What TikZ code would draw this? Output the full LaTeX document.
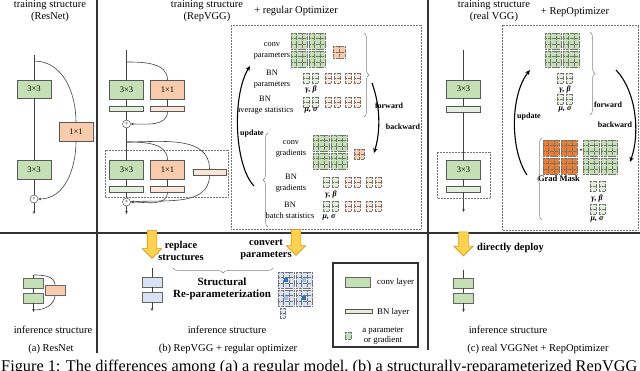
\documentclass[tikz,border=0pt]{standalone}
\usepackage{fontspec}
\setmainfont{Liberation Serif}
\usetikzlibrary{arrows.meta, positioning, decorations.pathreplacing, shapes.arrows}
\definecolor{convgreen}{HTML}{C5E0B4}
\definecolor{bngreen}{HTML}{E2F0D9}
\definecolor{onepink}{HTML}{F8CBAD}
\definecolor{bnbeige}{HTML}{FBE5D6}
\definecolor{maskorange}{HTML}{ED7D31}
\definecolor{infblue}{HTML}{DAE3F3}
\definecolor{darkblue}{HTML}{2E75B6}
\definecolor{midblue}{HTML}{9DC3E6}
\definecolor{deployyellow}{HTML}{FFD14F}
\definecolor{deployedge}{HTML}{C79A1E}
\tikzset{
    conv/.style={rectangle, draw=black!65, fill=convgreen, minimum width=34pt, minimum height=18.5pt, inner sep=0pt, font=\fontsize{8.5}{9}\selectfont},
    onebyone/.style={conv, fill=onepink},
    bnbar/.style={rectangle, draw=black!65, fill=bngreen, minimum width=34pt, minimum height=5.5pt, inner sep=0pt},
    bnbeigebar/.style={bnbar, fill=bnbeige},
    infbox/.style={rectangle, draw=black!60, fill=convgreen, minimum width=20pt, minimum height=10pt, inner sep=0pt},
    addop/.style={circle, draw=black!80, fill=white, minimum size=8pt, inner sep=0pt, font=\fontsize{6}{6}\selectfont},
    wire/.style={draw=black!75, line width=0.6pt},
    flow/.style={wire, -{Stealth[length=3pt, width=2.6pt]}},
    bigflow/.style={draw=black, line width=1.1pt, -{Stealth[length=5pt, width=4.5pt]}},
    txt/.style={inner sep=0pt, align=center, font=\fontsize{10.5}{11.5}\selectfont},
    smalltxt/.style={inner sep=0pt, align=center, font=\fontsize{8.3}{11.5}\selectfont},
    boldtxt/.style={inner sep=0pt, align=center, font=\fontsize{10.5}{12}\selectfont\bfseries},
    steptxt/.style={inner sep=0pt, font=\fontsize{8}{9}\selectfont\bfseries},
    greek/.style={inner sep=0pt, font=\fontsize{8}{9}\selectfont\bfseries\itshape},
    legtxt/.style={inner sep=0pt, align=center, font=\fontsize{8.8}{10}\selectfont},
    dotbox/.style={draw=black!55, densely dotted, line width=0.5pt},
    cellline/.style={draw=black!55, densely dotted, line width=0.3pt},
    bracket/.style={draw=black!50, line width=0.5pt, decorate, decoration={brace, amplitude=5pt}},
    divider/.style={draw=black!80, line width=1.3pt},
    legframe/.style={draw=black!80, line width=1.1pt},
    deploy/.style={single arrow, draw=deployedge, fill=deployyellow, line width=0.6pt, minimum height=28pt, single arrow head extend=5pt, inner sep=4.5pt, shape border rotate=270}
}
% a matrix of kernel cells: x, y, cols, rows, cell width, cell height, colour
\newcommand{\kmat}[7]{%
    \fill[#7] (#1,#2) rectangle ++(#3*#5,#4*#6);
    \foreach \k in {0,...,#3}
        \draw[cellline] (#1+\k*#5,#2) -- ++(0,#4*#6);
    \foreach \k in {0,...,#4}
        \draw[cellline] (#1,#2+\k*#6) -- ++(#3*#5,0);
}
% 2x2 block of 3x3 kernels
\newcommand{\kblock}[3]{%
    \foreach \kr in {0,1}
        \foreach \kc in {0,1}
            {\kmat{#1+\kc*18}{#2+\kr*18}{3}{3}{5.33}{5.33}{#3}}
}
% a pair of BN vectors
\newcommand{\kpair}[3]{%
    \kmat{#1}{#2}{1}{2}{6}{5}{#3}
    \kmat{#1+9}{#2}{1}{2}{6}{5}{#3}
}
% centre cell of a 3x3 kernel
\newcommand{\kcentre}[3]{\fill[#3] (#1+5.8,#2+5.8) rectangle ++(4.4,4.4);}

\begin{document}
\begin{tikzpicture}[x=1pt, y=-1pt]
    \useasboundingbox (0,0) rectangle (640,371);
    % titles
    \node[txt, anchor=north] (a-title) at (50,0.5) {training structure\\(ResNet)};
    \node[txt, anchor=north] (b-title) at (207,0.5) {training structure\\(RepVGG)};
    \node[txt] (b-opt) at (296,10.5) {+ regular Optimizer};
    \node[txt, anchor=north] (c-title) at (494,0.5) {training structure\\(real VGG)};
    \node[txt] (c-opt) at (575,12) {+ RepOptimizer};

    % dividers
    \draw[divider] (0,233) -- (640,233);
    \draw[divider] (97,0) -- (97,353);
    \draw[divider] (428,0) -- (428,350);

    % (a) ResNet, training
    \coordinate (a-top) at (34,55);
    \coordinate (a-split) at (34,61);
    \node[conv] (a-c1) at (34,89) {3×3};
    \node[onebyone] (a-one) at (76,131.5) {1×1};
    \node[conv] (a-c2) at (34,169.5) {3×3};
    \node[addop] (a-add) at (34,199) {+};
    \coordinate (a-out) at (34,214);
    \draw[wire] (a-top) -- (a-c1) -- (a-c2) -- (a-add);
    \draw[wire] (a-split) to[out=0, in=90] (a-one.north);
    \draw[flow] (a-one.south) to[out=-90, in=0] (a-add.east);
    \draw[flow] (a-add) -- (a-out);

    % (a) inference
    \coordinate (a-itop) at (33.5,275);
    \node[infbox] (a-i1) at (33.5,283) {};
    \node[infbox] (a-i2) at (33.5,298) {};
    \coordinate (a-iout) at (33.5,312);
    \coordinate (a-iend) at (34.5,310);
    \draw[wire] (a-itop) to[out=0, in=90] (55,285);
    \draw[wire] (55,295) to[out=-90, in=0] (a-iend);
    \node[infbox, fill=onepink] (a-ione) at (55,290) {};
    \draw[wire] (a-itop) -- (a-i1) -- (a-i2);
    \draw[flow] (a-i2) -- (a-iout);
    \node[txt] (a-inf) at (53,330) {inference structure};
    \node[txt] (a-cap) at (51,349) {(a) ResNet};

    % (b) RepVGG, training
    \coordinate (b-top) at (126.5,50);
    \coordinate (b-split1) at (126.5,62);
    \node[conv] (b-c1) at (126.5,89.5) {3×3};
    \node[onebyone] (b-one1) at (167.5,89.5) {1×1};
    \node[bnbar] (b-bn1) at (126.5,108.5) {};
    \node[bnbeigebar] (b-bn2) at (167.5,108.5) {};
    \node[addop] (b-add1) at (126.5,124) {+};
    \coordinate (b-split2) at (126.5,142);
    \node[conv] (b-c2) at (126.5,169.5) {3×3};
    \node[onebyone] (b-one2) at (167.5,169.5) {1×1};
    \node[bnbeigebar, minimum width=33pt] (b-id) at (209.5,172) {};
    \node[bnbar] (b-bn3) at (126.5,189) {};
    \node[bnbeigebar] (b-bn4) at (167.5,189) {};
    \node[addop] (b-add2) at (126.5,202) {+};
    \coordinate (b-out) at (126.5,214);
    \draw[wire] (b-top) -- (b-c1) -- (b-bn1) -- (b-add1) -- (b-c2) -- (b-bn3) -- (b-add2);
    \draw[flow] (b-add2) -- (b-out);
    \draw[wire] (b-split1) to[out=0, in=90] (b-one1.north);
    \draw[wire] (b-one1) -- (b-bn2);
    \draw[flow] (b-bn2.south) to[out=-90, in=0] (b-add1.east);
    \draw[wire] (b-split2) to[out=0, in=90] (b-one2.north);
    \draw[wire] (b-split2) to[out=0, in=90] (b-id.north);
    \draw[wire] (b-one2) -- (b-bn4);
    \draw[flow] (b-bn4.south) to[out=-90, in=0] (b-add2.east);
    \draw[flow] (b-id.south) to[out=-90, in=5] (b-add2.east);
    \draw[dotbox] (105,150) rectangle (228,197);

    % (b) regular optimizer
    \draw[dotbox] (231,25) rectangle (421,229);
    \kblock{291}{33}{convgreen}
    \kmat{333}{46}{2}{2}{6}{6}{onepink}
    \node[smalltxt] (b-convp) at (272,51) {conv\\parameters};
    \kpair{303}{73}{bngreen}
    \kpair{325}{73}{bnbeige}
    \kpair{345}{73}{bnbeige}
    \node[smalltxt] (b-bnp) at (272,79) {BN\\parameters};
    \node[greek] (b-gb) at (311,90) {γ, β};
    \kpair{303}{97}{bngreen}
    \kpair{325}{97}{bnbeige}
    \kpair{345}{97}{bnbeige}
    \node[smalltxt] (b-bna) at (265,105) {BN\\average statistics};
    \node[greek] (b-ms) at (311,110) {μ, σ};
    \draw[bracket] (364,33) -- (364,117);

    \kblock{313}{135}{convgreen}
    \kmat{354}{149}{2}{2}{5}{5}{onepink}
    \node[smalltxt] (b-convg) at (291,149) {conv\\gradients};
    \kpair{323}{177}{bngreen}
    \kpair{345}{177}{bnbeige}
    \kpair{366}{177}{bnbeige}
    \node[smalltxt] (b-bng) at (291,183) {BN\\gradients};
    \node[greek] (b-gbg) at (331,195) {γ, β};
    \kpair{323}{201}{bngreen}
    \kpair{345}{201}{bnbeige}
    \kpair{366}{201}{bnbeige}
    \node[smalltxt] (b-bnb) at (290,210.5) {BN\\batch statistics};
    \node[greek] (b-msb) at (329,217) {μ, σ};
    \draw[bracket] (268,227) -- (268,133);

    \coordinate (b-upd-s) at (254,186);
    \coordinate (b-upd-e) at (250,66);
    \draw[bigflow] (b-upd-s) .. controls (234,165) and (232,95) .. (b-upd-e);
    \node[steptxt, anchor=west] (b-upd) at (240,134) {update};
    \coordinate (b-fb-s) at (372,83);
    \coordinate (b-fb-e) at (374,153);
    \draw[bigflow] (b-fb-s) .. controls (380,105) and (381,130) .. (b-fb-e);
    \node[steptxt] (b-fwd) at (389,106) {forward};
    \node[steptxt] (b-bwd) at (403,127) {backward};

    % (b) bottom
    \node[deploy] (b-arr1) at (152,242) {};
    \node[deploy, minimum height=26pt] (b-arr2) at (296,240) {};
    \node[boldtxt] (b-replace) at (181,251) {replace\\structures};
    \node[boldtxt] (b-convert) at (266,250) {convert\\parameters};
    \draw[bracket] (273,268) -- (173,268);
    \node[boldtxt, font=\fontsize{11}{12.5}\selectfont\bfseries] (b-strep) at (222,289) {Structural\\Re-parameterization};
    \coordinate (b-itop) at (152,268);
    \node[infbox, fill=infblue] (b-i1) at (152,282) {};
    \node[infbox, fill=infblue] (b-i2) at (152,297) {};
    \coordinate (b-iout) at (152,311);
    \draw[wire] (b-itop) -- (b-i1) -- (b-i2);
    \draw[flow] (b-i2) -- (b-iout);
    \kmat{278}{272}{3}{3}{5.33}{5.33}{infblue}
    \kcentre{278}{272}{darkblue}
    \kmat{296}{272}{3}{3}{5.33}{5.33}{infblue}
    \kcentre{296}{272}{midblue}
    \kmat{278}{290}{3}{3}{5.33}{5.33}{infblue}
    \kcentre{278}{290}{midblue}
    \kmat{296}{290}{3}{3}{5.33}{5.33}{infblue}
    \kcentre{296}{290}{darkblue}
    \kmat{280}{308}{1}{2}{5}{5}{infblue}
    \node[txt] (b-inf) at (227,330) {inference structure};
    \node[txt] (b-cap) at (228,349) {(b) RepVGG + regular optimizer};

    % legend
    \draw[legframe] (333,263) rectangle (418,347);
    \node[infbox, minimum width=25pt] (leg-conv) at (357.5,282) {};
    \node[legtxt, anchor=west] (leg-convtxt) at (377,282) {conv layer};
    \node[bnbar, minimum width=27pt, minimum height=4pt] (leg-bn) at (358.5,311) {};
    \node[legtxt, anchor=west] (leg-bntxt) at (377,312) {BN layer};
    \kmat{345}{332}{1}{1}{6}{7}{convgreen}
    \node[legtxt] (leg-ptxt) at (383,336) {a parameter\\or gradient};

    % (c) real VGG, training
    \coordinate (c-top) at (463.5,50);
    \node[conv] (c-c1) at (463.5,89) {3×3};
    \node[bnbar] (c-bn1) at (463.5,109) {};
    \node[conv] (c-c2) at (463.5,169.5) {3×3};
    \node[bnbar] (c-bn2) at (463.5,189) {};
    \coordinate (c-out) at (463.5,212);
    \draw[wire] (c-top) -- (c-c1) -- (c-bn1) -- (c-c2) -- (c-bn2);
    \draw[flow] (c-bn2) -- (c-out);
    \draw[dotbox] (437,152) rectangle (490,198);

    % (c) RepOptimizer
    \draw[dotbox] (502,25) rectangle (638,230);
    \kblock{545}{33}{convgreen}
    \kpair{557}{73}{bngreen}
    \node[greek] (c-gb) at (565,90) {γ, β};
    \kpair{557}{94}{bngreen}
    \node[greek] (c-ms) at (565,109) {μ, σ};
    \draw[bracket] (590,32) -- (590,115);
    \node[steptxt] (c-fwd) at (608,105) {forward};

    \kblock{543}{140}{maskorange}
    \node[inner sep=0pt, font=\fontsize{7}{7}\selectfont] (c-star) at (581,151) {*};
    \kblock{583}{140}{convgreen}
    \node[inner sep=0pt, font=\fontsize{8.5}{9}\selectfont\bfseries] (c-mask) at (559,179) {Grad Mask};
    \kpair{590}{181}{bngreen}
    \node[greek] (c-gbg) at (597,199) {γ, β};
    \kpair{590}{204}{bngreen}
    \node[greek] (c-msg) at (597,219) {μ, σ};
    \draw[bracket] (542,220) -- (542,138);

    \coordinate (c-upd-s) at (527,175);
    \coordinate (c-upd-e) at (530,70);
    \draw[bigflow] (c-upd-s) .. controls (510,150) and (510,95) .. (c-upd-e);
    \node[steptxt, anchor=west] (c-upd) at (517,117) {update};
    \coordinate (c-bwd-s) at (616,70);
    \coordinate (c-bwd-e) at (630,162);
    \draw[bigflow] (c-bwd-s) .. controls (637,92) and (640,135) .. (c-bwd-e);
    \node[steptxt] (c-bwd) at (615,125) {backward};

    % (c) bottom
    \node[deploy, minimum height=24pt] (c-arr) at (463.5,241.5) {};
    \node[boldtxt, anchor=west] (c-deploy) at (477,248) {directly deploy};
    \coordinate (c-itop) at (463.5,270);
    \node[infbox] (c-i1) at (463.5,283) {};
    \node[infbox] (c-i2) at (463.5,298) {};
    \coordinate (c-iout) at (463.5,312);
    \draw[wire] (c-itop) -- (c-i1) -- (c-i2);
    \draw[flow] (c-i2) -- (c-iout);
    \node[txt] (c-inf) at (508,330) {inference structure};
    \node[txt] (c-cap) at (538,349) {(c) real VGGNet + RepOptimizer};

    % figure caption, cut by the page edge
    \node[anchor=base west, inner sep=0pt, font=\fontsize{16.3}{18}\selectfont] (fig-cap) at (1,371.5) {Figure 1: The differences among (a) a regular model, (b) a structurally-reparameterized RepVGG};
\end{tikzpicture}
\end{document}
